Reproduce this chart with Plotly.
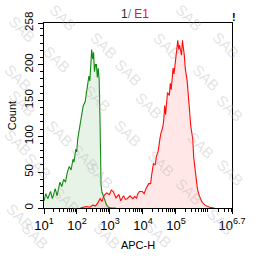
import plotly.graph_objects as go

# ---- data (log10 of APC-H, count) ----
green_log = [1.000, 1.057, 1.113, 1.199, 1.255, 1.340, 1.397, 1.482, 1.539, 1.596,
             1.652, 1.709, 1.766, 1.822, 1.879, 1.908, 1.964, 1.993, 2.021, 2.049,
             2.078, 2.106, 2.163, 2.191, 2.248, 2.305, 2.361, 2.390, 2.418, 2.446,
             2.475, 2.503, 2.531, 2.560, 2.588, 2.617, 2.645, 2.673, 2.702, 2.730,
             2.758, 2.843, 2.900, 2.957, 3.042, 3.184]
green_cnt = [10, 20, 13, 23, 13, 27, 17, 36, 30, 40,
             36, 50, 58, 53, 68, 64, 82, 78, 96, 104,
             113, 124, 138, 143, 148, 169, 184, 177, 201, 221,
             208, 217, 190, 200, 200, 182, 195, 178, 113, 32,
             22, 10, 4, 1, 0, 0]

red_log = [2.106, 2.276, 2.390, 2.475, 2.560, 2.617, 2.702, 2.758, 2.815, 2.900,
           2.985, 3.042, 3.099, 3.184, 3.269, 3.326, 3.411, 3.467, 3.524, 3.609,
           3.694, 3.751, 3.808, 3.836, 3.893, 3.978, 4.035, 4.091, 4.176, 4.233,
           4.261, 4.318, 4.375, 4.403, 4.460, 4.488, 4.517, 4.545, 4.602, 4.630,
           4.659, 4.687, 4.744, 4.800, 4.829, 4.857, 4.914, 4.942, 4.971, 5.027,
           5.056, 5.084, 5.112, 5.169, 5.197, 5.254, 5.282, 5.339, 5.396, 5.453,
           5.509, 5.538, 5.594, 5.651, 5.708, 5.793, 5.878, 5.963, 6.020, 6.162]
red_cnt = [0, 2, 1, 4, 3, 6, 13, 9, 17, 21,
           19, 25, 23, 14, 19, 10, 17, 12, 13, 17,
           13, 16, 14, 19, 23, 23, 20, 27, 34, 34,
           45, 62, 60, 71, 79, 92, 97, 104, 113, 122,
           143, 130, 161, 157, 174, 165, 195, 187, 200, 217,
           234, 221, 227, 213, 234, 213, 195, 178, 143, 113,
           97, 71, 49, 27, 17, 8, 4, 2, 1, 0]

x_tick_exp = [1, 2, 3, 4, 5, 6.7]
x_tick_text = ["10<sup>1</sup>", "10<sup>2</sup>", "10<sup>3</sup>",
               "10<sup>4</sup>", "10<sup>5</sup>", "10<sup>6.7</sup>"]
y_tick_vals = [0, 50, 100, 150, 200, 258]

# ---- figure ----
W, H = 258, 261
L, R, T, B = 43, 14, 18, 43
FONT = "Liberation Sans, Arial"

fig = go.Figure()
fig.add_trace(go.Scatter(
    x=[10 ** v for v in green_log], y=green_cnt, mode="lines",
    line=dict(color="#138a13", width=1.1), fill="tozeroy",
    fillcolor="rgba(30,140,30,0.10)", showlegend=False))
fig.add_trace(go.Scatter(
    x=[10 ** v for v in red_log], y=red_cnt, mode="lines",
    line=dict(color="#ff0a0a", width=1.1), fill="tozeroy",
    fillcolor="rgba(255,60,60,0.12)", showlegend=False))

minor_x = [m * 10 ** k for k in range(1, 7) for m in range(2, 10) if m * 10 ** k <= 10 ** 6.7]

fig.update_xaxes(
    type="log", range=[1, 6.7],
    tickvals=[10 ** e for e in x_tick_exp], ticktext=x_tick_text,
    ticks="outside", ticklen=5, tickcolor="black",
    minor=dict(tickvals=minor_x, ticks="outside", ticklen=3, tickcolor="black"),
    showline=True, linecolor="black", linewidth=1, mirror=True,
    showgrid=False, zeroline=False,
    tickfont=dict(family=FONT, size=13, color="black"),
    title=dict(text="APC-H", font=dict(family=FONT, size=11, color="black"),
               standoff=9),
)
fig.update_yaxes(
    range=[0, 258], tickvals=y_tick_vals, ticktext=[str(v) for v in y_tick_vals],
    tickangle=-90,
    ticks="outside", ticklen=5, tickcolor="black",
    minor=dict(dtick=10, ticks="outside", ticklen=3, tickcolor="black"),
    showline=True, linecolor="black", linewidth=1, mirror=True,
    showgrid=False, zeroline=False,
    tickfont=dict(family=FONT, size=11.5, color="black"),
    title=dict(text="Count", font=dict(family=FONT, size=11, color="black"),
               standoff=4),
)

# watermark "SAB" positions (pixel centres)
wm = [(63, 12), (20, 25), (107, 42), (57, 57), (15, 77), (198, 12), (238, 42), (175, 43),
      (216, 77), (133, 72), (155, 107), (242, 110), (15, 147), (60, 137), (37, 173),
      (87, 163), (103, 183), (67, 210), (17, 227), (110, 248), (33, 248), (133, 137),
      (168, 170), (211, 150), (242, 180), (198, 200), (231, 233), (165, 247), (100, 100),
      (20, 105)]
pw, ph = W - L - R, H - T - B
annotations = []
for px, py in wm:
    annotations.append(dict(
        x=(px - L) / pw, y=(H - B - py) / ph, xref="paper", yref="paper",
        text="SAB", showarrow=False, textangle=45,
        font=dict(family=FONT, size=15, color="rgba(165,165,165,0.32)"),
        xanchor="center", yanchor="middle"))

annotations.append(dict(
    x=(140 - L) / pw, y=(H - B - 8) / ph, xref="paper", yref="paper",
    text="<span style='color:#3a2a1a'>1</span><span style='color:#4a90d9'>/</span>"
         "<span style='color:#e8102a'> E1</span>",
    showarrow=False, font=dict(family=FONT, size=12),
    xanchor="center", yanchor="middle"))
annotations.append(dict(
    x=(246 - L) / pw, y=(H - B - 12) / ph, xref="paper", yref="paper",
    text="<b>!</b>", showarrow=False,
    font=dict(family=FONT, size=11, color="black"),
    xanchor="center", yanchor="middle"))

fig.update_layout(
    width=W, height=H, margin=dict(l=L, r=R, t=T, b=B, pad=0),
    paper_bgcolor="white", plot_bgcolor="white",
    annotations=annotations, showlegend=False,
)

fig.write_html("out.html")
